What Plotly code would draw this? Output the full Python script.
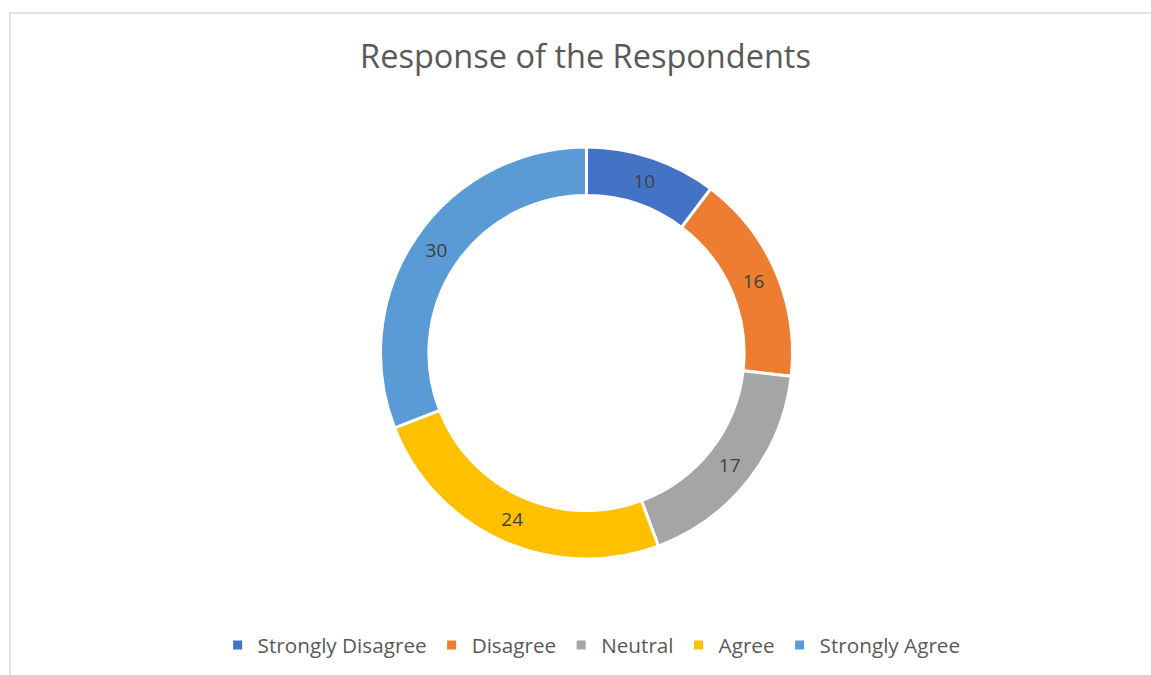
import plotly.graph_objects as go

# Survey answers
categories = ["Strongly Disagree", "Disagree", "Neutral", "Agree", "Strongly Agree"]
counts = [10, 16, 17, 24, 30]
colors = ["#4472C4", "#ED7D31", "#A5A5A5", "#FFC000", "#5B9BD5"]

W, H = 1151, 675
cx, cy, r_out = 586.5, 353, 206
FONT = "Open Sans"

fig = go.Figure(
    go.Pie(
        labels=categories,
        values=counts,
        hole=0.765,
        sort=False,
        direction="clockwise",
        rotation=0,
        marker=dict(colors=colors, line=dict(color="white", width=3)),
        textinfo="value",
        textposition="inside",
        insidetextorientation="horizontal",
        textfont=dict(family=FONT, size=19, color="#404040"),
        domain=dict(
            x=[(cx - r_out) / W, (cx + r_out) / W],
            y=[(H - cy - r_out) / H, (H - cy + r_out) / H],
        ),
    )
)

fig.update_layout(
    width=W,
    height=H,
    margin=dict(l=0, r=0, t=0, b=0),
    paper_bgcolor="white",
    plot_bgcolor="white",
    title=dict(
        text="Response of the Respondents",
        x=0.5087,
        xanchor="center",
        y=1 - 57 / H,
        yanchor="middle",
        font=dict(family=FONT, size=32.5, color="#595959"),
    ),
    legend=dict(
        orientation="h",
        x=0.514,
        xanchor="center",
        y=1 - 645 / H,
        yanchor="middle",
        font=dict(family=FONT, size=20.7, color="#595959"),
        traceorder="normal",
    ),
    shapes=[
        dict(
            type="rect",
            xref="paper",
            yref="paper",
            x0=10 / W,
            x1=1.02,
            y0=-0.02,
            y1=1 - 13 / H,
            line=dict(color="#D9D9D9", width=1.5),
            fillcolor="rgba(0,0,0,0)",
            layer="below",
        )
    ],
)

fig.write_html("out.html")
